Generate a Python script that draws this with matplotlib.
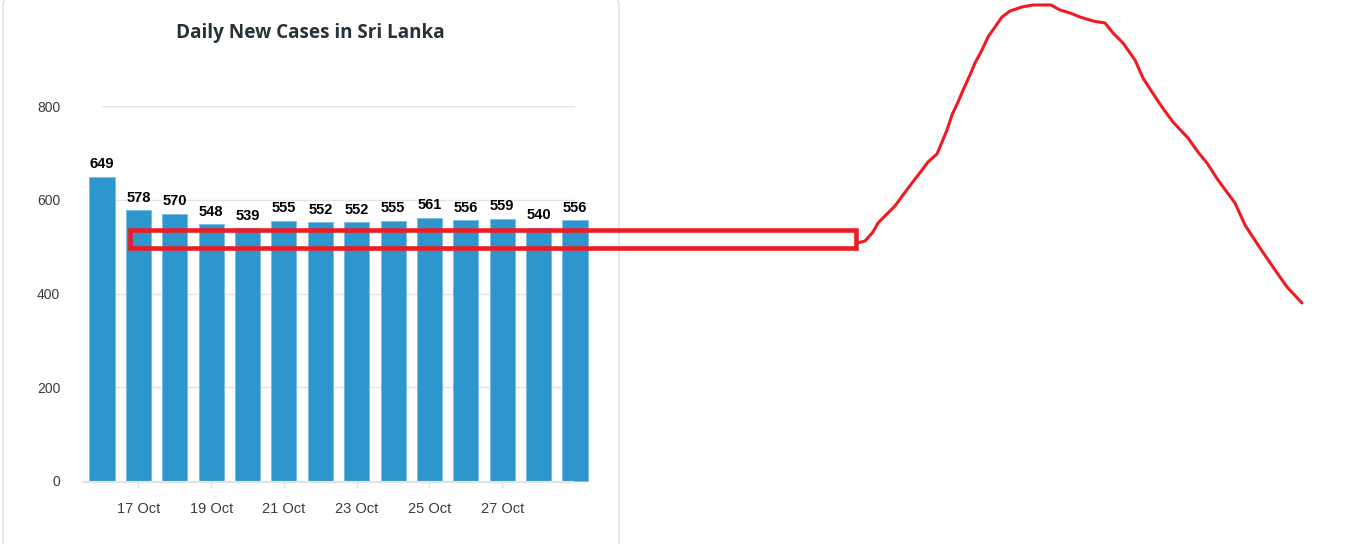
import matplotlib
matplotlib.use("Agg")
import matplotlib.pyplot as plt
from matplotlib.patches import FancyBboxPatch, Rectangle

# daily new cases, 16 Oct .. 29 Oct
days = list(range(16, 30))
cases = [649, 578, 570, 548, 539, 555, 552, 552, 555, 561, 556, 559, 540, 556]
tick_days = [17, 19, 21, 23, 25, 27]
y_ticks = [0, 200, 400, 600, 800]

# hand drawn red annotation (screen pixels)
box_x = [129.5, 856]
box_y = [229.5, 247.5]
curve_x = [857, 865, 873, 878, 887, 895, 903, 912, 922, 928, 937, 942, 947,
           952, 958, 964, 970, 975, 982, 988, 995, 1002, 1010, 1022, 1033,
           1051, 1060, 1070, 1080, 1093, 1105, 1113, 1123, 1135, 1143, 1152,
           1162, 1173, 1188, 1198, 1207, 1218, 1235, 1245, 1260, 1273, 1287,
           1302]
curve_y = [243, 241, 232, 223, 214, 206, 195, 183, 170, 162, 154, 142, 130,
           115, 102, 88, 75, 63, 50, 37, 27, 17, 11, 7, 5, 5, 10, 13, 17, 21,
           23, 33, 43, 60, 78, 92, 107, 122, 138, 152, 163, 180, 203, 225, 248,
           267, 287, 303]

W, H = 1372, 544
bar_color = "#2c96cd"
grid_color = "#e3e3e3"
text_color = "#373d3f"
red = "#ed1c24"

fig = plt.figure(figsize=(W / 100, H / 100), dpi=100)
fig.patch.set_facecolor("white")

# background layer with the card
bg = fig.add_axes((0, 0, 1, 1), zorder=0)
bg.set_xlim(0, W)
bg.set_ylim(H, 0)
bg.set_axis_off()
bg.add_patch(FancyBboxPatch((3, -2), 616, H + 20,
                            boxstyle="round,pad=0,rounding_size=7",
                            facecolor="white", edgecolor="#dfe3f1", linewidth=1.2))
bg.text(310, 33, "Daily New Cases in Sri Lanka", family="Open Sans",
        fontweight="bold", fontsize=13.6, color="#263238", ha="center", va="center")

# chart area: x centres of first/last bar at 102px / 575px, y 0 at 481px, 800 at 106px
left, right = 102 / W, 575 / W
bottom, top = (H - 481) / H, (H - 106) / H
ax = fig.add_axes((left, bottom, right - left, top - bottom), zorder=1)
ax.patch.set_alpha(0)
ax.set_xlim(days[0], days[-1])
ax.set_ylim(0, 800)

for v in y_ticks[1:]:
    ax.axhline(v, color=grid_color, linewidth=1, zorder=0)

bars = ax.bar(days, cases, width=0.69, color=bar_color, edgecolor="#7cbde3",
              linewidth=0.7, clip_on=False, zorder=2)
for d, c in zip(days, cases):
    ax.annotate(str(c), (d, c), xytext=(0, 4), textcoords="offset points",
                ha="center", va="bottom", fontsize=10.5, fontweight="bold",
                family="Liberation Sans", color="black", annotation_clip=False)

for s in ax.spines.values():
    s.set_visible(False)
ax.set_yticks(y_ticks)
ax.set_yticklabels([str(v) for v in y_ticks], family="Liberation Sans",
                   fontsize=10, color=text_color)
ax.tick_params(axis="y", length=0, pad=30)
ax.set_xticks(tick_days)
ax.set_xticklabels(["%d Oct" % d for d in tick_days], family="Liberation Sans",
                   fontsize=10.5, color=text_color)
ax.tick_params(axis="x", length=5, width=1, color=grid_color, pad=10)

# overlay for axis line and the red annotation
ov = fig.add_axes((0, 0, 1, 1), zorder=3)
ov.patch.set_alpha(0)
ov.set_xlim(0, W)
ov.set_ylim(H, 0)
ov.set_axis_off()
ov.plot([83, 573], [482, 482], color=grid_color, linewidth=1.6, zorder=1)
ov.add_patch(Rectangle((box_x[0], box_y[0]), box_x[1] - box_x[0], box_y[1] - box_y[0],
                       fill=False, edgecolor=red, linewidth=3.3, joinstyle="miter"))
ov.plot(curve_x, curve_y, color=red, linewidth=2.2, solid_capstyle="round",
        solid_joinstyle="round")

fig.savefig("out.png", dpi=100)
